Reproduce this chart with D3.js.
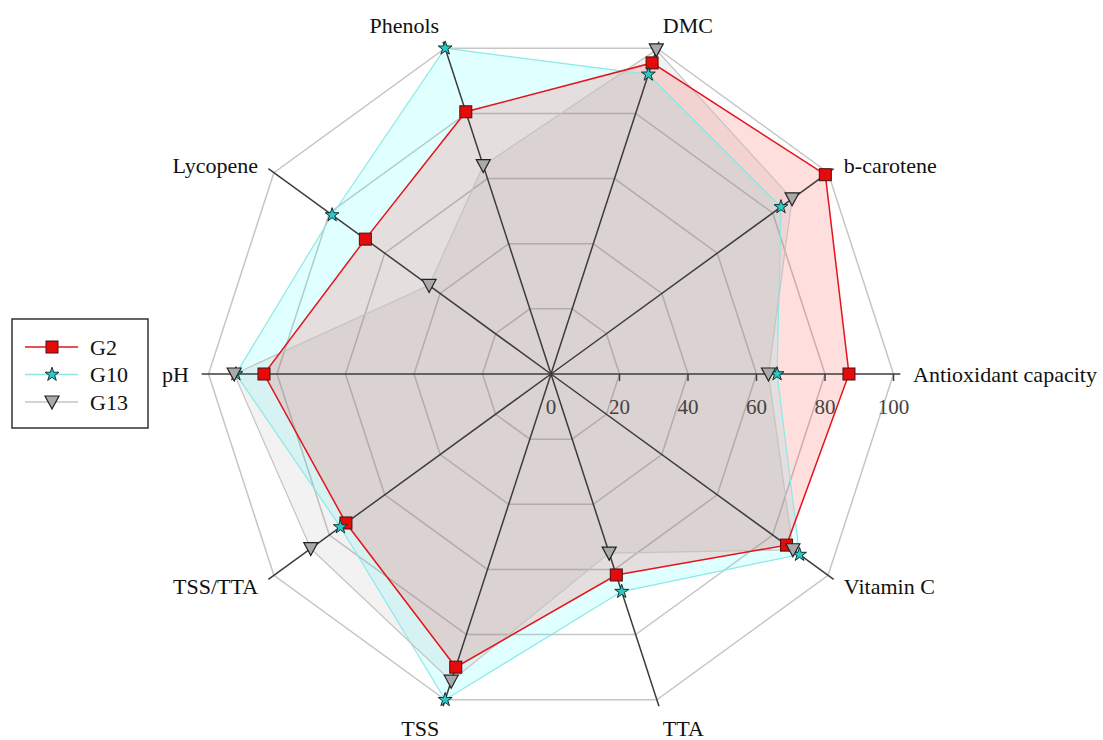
<!DOCTYPE html>
<html>
<head>
<meta charset="utf-8">
<script src="https://cdn.jsdelivr.net/npm/d3@7"></script>
<style>
  body { margin: 0; background: #fff; }
</style>
</head>
<body>
<svg id="chart" width="1103" height="740"></svg>
<script>
// ---- data ----
const axesNames = ["Antioxidant capacity", "b-carotene", "DMC", "Phenols", "Lycopene", "pH", "TSS/TTA", "TSS", "TTA", "Vitamin C"];
const seriesNames = ["G2", "G10", "G13"];
const valuesG2  = [87, 99, 95.5, 80.5, 67, 83.8, 74, 90, 61.7, 85];
const valuesG10 = [66, 83, 92, 100, 79, 92, 76, 100, 66.8, 89.7];
const valuesG13 = [63.5, 87, 99.5, 64, 44, 92.5, 86.7, 94.3, 55, 87.3];
const tickValues = [0, 20, 40, 60, 80, 100];

// ---- layout ----
const FONT = "'Liberation Serif', 'Times New Roman', serif";
const svg = d3.select("#chart");
const cx = 551, cy = 374;
const rScale = d3.scaleLinear().domain([0, 100]).range([0, 342.5]);
const angleOf = name => axesNames.indexOf(name) * 36 * Math.PI / 180;
const pt = (name, v) => {
  const a = angleOf(name), r = rScale(v);
  return [cx + Math.cos(a) * r, cy - Math.sin(a) * r];
};

const g = svg.append("g");

// grid rings
tickValues.filter(v => v > 0).forEach(v => {
  g.append("polygon")
    .attr("points", axesNames.map(n => pt(n, v).join(",")).join(" "))
    .attr("fill", "none").attr("stroke", "#c6c6c6").attr("stroke-width", 1.5);
});

// series (fill order: G10, G13, G2)
const series = [
  { name: "G2",  values: valuesG2,  fill: "rgba(255,0,0,0.13)",     stroke: "#e3141b", sw: 1.5, marker: "square" },
  { name: "G10", values: valuesG10, fill: "rgba(0,255,255,0.12)",   stroke: "#8be8e8", sw: 1.2, marker: "star" },
  { name: "G13", values: valuesG13, fill: "rgba(128,128,128,0.10)", stroke: "#c4c4c4", sw: 1.2, marker: "triangle" }
];
const fillOrder = [series[1], series[2], series[0]];

fillOrder.forEach(s => {
  g.append("polygon")
    .attr("points", axesNames.map((n, i) => pt(n, s.values[i]).join(",")).join(" "))
    .attr("fill", s.fill).attr("stroke", "none");
});

// axes
axesNames.forEach(n => {
  const [x2, y2] = pt(n, 102);
  g.append("line").attr("x1", cx).attr("y1", cy).attr("x2", x2).attr("y2", y2)
    .attr("stroke", "#3c3c3c").attr("stroke-width", 1.5);
});

// ticks on first axis
tickValues.forEach(v => {
  const x = cx + rScale(v);
  if (v > 0) g.append("line").attr("x1", x).attr("x2", x).attr("y1", cy).attr("y2", cy + 7)
    .attr("stroke", "#3c3c3c").attr("stroke-width", 1.5);
  g.append("text").attr("x", x).attr("y", cy + 33).attr("text-anchor", "middle")
    .attr("dominant-baseline", "central").attr("font-family", FONT)
    .attr("font-size", "21px").attr("fill", "#444").text(v);
});

fillOrder.forEach(s => {
  g.append("polygon")
    .attr("points", axesNames.map((n, i) => pt(n, s.values[i]).join(",")).join(" "))
    .attr("fill", "none").attr("stroke", s.stroke).attr("stroke-width", s.sw);
});

function drawMarker(sel, type, x, y) {
  if (type === "square") {
    sel.append("rect").attr("x", x - 6).attr("y", y - 6).attr("width", 12).attr("height", 12)
      .attr("fill", "#e50b0b").attr("stroke", "#4a1010").attr("stroke-width", 1);
  } else if (type === "star") {
    sel.append("path").attr("d", d3.symbol(d3.symbolStar, 60)())
      .attr("transform", `translate(${x},${y})`)
      .attr("fill", "#2cc9c9").attr("stroke", "#113333").attr("stroke-width", 1);
  } else {
    sel.append("path").attr("d", `M${x - 7},${y - 6} L${x + 7},${y - 6} L${x},${y + 7} Z`)
      .attr("fill", "#a9a9a9").attr("stroke", "#222").attr("stroke-width", 1.2);
  }
}

series.forEach(s => {
  axesNames.forEach((n, i) => {
    const [x, y] = pt(n, s.values[i]);
    drawMarker(g, s.marker, x, y);
  });
});

// axis labels
axesNames.forEach(n => {
  const a = angleOf(n);
  const c = Math.cos(a), sn = Math.sin(a);
  const r = 362;
  let x = cx + c * r, y = cy - sn * r;
  let anchor = c > 0.2 ? "start" : (c < -0.2 ? "end" : "middle");
  if (sn > 0.9) y -= 4;
  if (sn < -0.9) y += 10;
  if (sn > 0.5 && sn < 0.9) y += 4;
  g.append("text").attr("x", x).attr("y", y).attr("text-anchor", anchor)
    .attr("dominant-baseline", "central").attr("font-family", FONT)
    .attr("font-size", "22px").attr("fill", "#111").text(n);
});

// legend
const lg = svg.append("g");
lg.append("rect").attr("x", 12).attr("y", 319).attr("width", 136).attr("height", 109)
  .attr("fill", "#fff").attr("stroke", "#333").attr("stroke-width", 1.5);
series.forEach((s, i) => {
  const y = 347 + i * 27.5;
  lg.append("line").attr("x1", 25).attr("x2", 78).attr("y1", y).attr("y2", y)
    .attr("stroke", s.stroke).attr("stroke-width", 1.5);
  drawMarker(lg, s.marker, 52, y);
  lg.append("text").attr("x", 90).attr("y", y).attr("dominant-baseline", "central")
    .attr("font-family", FONT).attr("font-size", "22px").attr("fill", "#111").text(s.name);
});
</script>
</body>
</html>
